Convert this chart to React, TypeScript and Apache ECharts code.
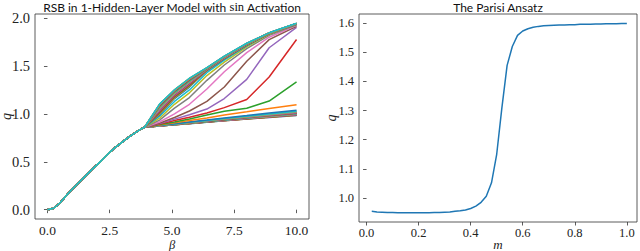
import React, { useEffect, useRef } from "react";
import * as echarts from "echarts";

// ---- Left panel: common (replica-symmetric) part, beta 0..3.9 ----
const betaCommon = [0, 0.25, 0.5, 0.75, 1.0, 1.25, 1.5, 1.75, 2.0, 2.25, 2.5, 2.75, 3.0, 3.25, 3.5, 3.75, 3.9];
const qCommon = [0, 0.015, 0.07, 0.145, 0.215, 0.28, 0.345, 0.41, 0.47, 0.535, 0.6, 0.655, 0.705, 0.755, 0.8, 0.84, 0.86];

// ---- Left panel: branches after beta 3.9 ----
const betaBranch = [4.5, 5.1, 5.7, 6.4, 7.1, 8.0, 8.9, 10];

const lowerBranches = [
  [0.874, 0.886, 0.898, 0.913, 0.928, 0.946, 0.963, 0.984],
  [0.874, 0.887, 0.899, 0.914, 0.929, 0.947, 0.965, 0.986],
  [0.874, 0.887, 0.900, 0.915, 0.930, 0.948, 0.966, 0.988],
  [0.874, 0.887, 0.900, 0.916, 0.931, 0.950, 0.968, 0.990],
  [0.875, 0.888, 0.901, 0.917, 0.932, 0.951, 0.970, 0.992],
  [0.875, 0.888, 0.902, 0.918, 0.933, 0.953, 0.971, 0.994],
  [0.875, 0.889, 0.902, 0.919, 0.934, 0.954, 0.973, 0.996],
  [0.875, 0.889, 0.903, 0.919, 0.935, 0.955, 0.975, 0.998],
  [0.875, 0.889, 0.903, 0.920, 0.936, 0.957, 0.976, 1.000],
  [0.876, 0.890, 0.904, 0.921, 0.937, 0.958, 0.978, 1.002],
  [0.876, 0.890, 0.905, 0.922, 0.939, 0.959, 0.980, 1.004],
  [0.876, 0.891, 0.905, 0.923, 0.940, 0.961, 0.981, 1.006],
  [0.876, 0.891, 0.906, 0.924, 0.941, 0.962, 0.983, 1.008],
  [0.877, 0.892, 0.907, 0.925, 0.942, 0.964, 0.985, 1.010],
  [0.877, 0.892, 0.907, 0.925, 0.943, 0.965, 0.986, 1.012],
  [0.877, 0.892, 0.908, 0.926, 0.944, 0.966, 0.988, 1.014],
  [0.877, 0.893, 0.909, 0.928, 0.946, 0.968, 0.990, 1.017],
  [0.878, 0.894, 0.910, 0.929, 0.947, 0.970, 0.993, 1.020],
  [0.878, 0.894, 0.911, 0.931, 0.949, 0.973, 0.996, 1.024],
  [0.879, 0.895, 0.912, 0.932, 0.952, 0.976, 0.999, 1.028],
];

const upperBranches = [
  [0.880, 0.897, 0.915, 0.936, 0.958, 0.983, 1.009, 1.037],
  [0.884, 0.906, 0.930, 0.958, 0.988, 1.021, 1.055, 1.096],
  [0.888, 0.916, 0.946, 0.988, 1.028, 1.058, 1.134, 1.333],
  [0.893, 0.930, 0.965, 1.010, 1.065, 1.150, 1.385, 1.777],
  [0.898, 0.945, 0.990, 1.050, 1.160, 1.360, 1.690, 1.903],
  [0.903, 0.962, 1.030, 1.130, 1.280, 1.550, 1.775, 1.915],
  [0.915, 1.000, 1.100, 1.260, 1.440, 1.640, 1.800, 1.925],
  [0.935, 1.060, 1.170, 1.350, 1.510, 1.680, 1.820, 1.930],
  [0.955, 1.100, 1.220, 1.400, 1.540, 1.700, 1.830, 1.933],
  [0.975, 1.130, 1.250, 1.430, 1.560, 1.710, 1.835, 1.935],
  [0.990, 1.160, 1.280, 1.450, 1.575, 1.715, 1.837, 1.936],
  [1.001, 1.169, 1.289, 1.453, 1.578, 1.717, 1.838, 1.937],
  [1.012, 1.178, 1.298, 1.456, 1.580, 1.719, 1.839, 1.938],
  [1.022, 1.186, 1.306, 1.459, 1.582, 1.721, 1.839, 1.939],
  [1.032, 1.194, 1.314, 1.461, 1.585, 1.723, 1.840, 1.939],
  [1.041, 1.201, 1.321, 1.464, 1.587, 1.724, 1.841, 1.940],
  [1.048, 1.208, 1.328, 1.466, 1.588, 1.726, 1.841, 1.941],
  [1.056, 1.214, 1.334, 1.468, 1.590, 1.727, 1.842, 1.941],
  [1.064, 1.220, 1.340, 1.470, 1.592, 1.728, 1.842, 1.942],
  [1.069, 1.225, 1.345, 1.472, 1.593, 1.729, 1.843, 1.942],
  [1.076, 1.230, 1.350, 1.473, 1.595, 1.731, 1.843, 1.943],
  [1.080, 1.234, 1.354, 1.475, 1.596, 1.731, 1.844, 1.943],
  [1.085, 1.237, 1.357, 1.476, 1.597, 1.732, 1.844, 1.944],
  [1.089, 1.241, 1.361, 1.477, 1.598, 1.733, 1.844, 1.944],
  [1.092, 1.244, 1.364, 1.478, 1.598, 1.734, 1.844, 1.944],
  [1.096, 1.246, 1.366, 1.479, 1.599, 1.734, 1.845, 1.945],
  [1.097, 1.248, 1.368, 1.479, 1.599, 1.735, 1.845, 1.945],
  [1.099, 1.249, 1.369, 1.480, 1.600, 1.735, 1.845, 1.945],
  [1.100, 1.250, 1.370, 1.480, 1.600, 1.735, 1.845, 1.945],
  [1.102, 1.252, 1.372, 1.482, 1.602, 1.737, 1.846, 1.946],
];

const betaTicks = [0, 2.5, 5, 7.5, 10];
const qTicksLeft = [0, 0.5, 1.0, 1.5, 2.0];

// ---- Right panel: Parisi ansatz ----
const mValues = [
  0.02, 0.04, 0.06, 0.08, 0.10, 0.12, 0.14, 0.16, 0.18, 0.20,
  0.22, 0.24, 0.26, 0.28, 0.30, 0.32, 0.34, 0.36, 0.38, 0.40,
  0.42, 0.44, 0.46, 0.48, 0.50, 0.52, 0.54, 0.56, 0.58, 0.60,
  0.62, 0.64, 0.66, 0.68, 0.70, 0.72, 0.74, 0.76, 0.78, 0.80,
  0.82, 0.84, 0.86, 0.88, 0.90, 0.92, 0.94, 0.96, 0.98, 1.00,
];
const qParisi = [
  0.954, 0.952, 0.951, 0.950, 0.950, 0.949, 0.949, 0.949, 0.949, 0.949,
  0.949, 0.949, 0.950, 0.950, 0.951, 0.952, 0.954, 0.956, 0.959, 0.964,
  0.972, 0.985, 1.006, 1.052, 1.150, 1.310, 1.455, 1.520, 1.558, 1.573,
  1.581, 1.586, 1.589, 1.591, 1.592, 1.593, 1.594, 1.594, 1.595, 1.595,
  1.596, 1.596, 1.596, 1.597, 1.597, 1.598, 1.598, 1.598, 1.599, 1.599,
];
const mTicks = [0, 0.2, 0.4, 0.6, 0.8, 1.0];
const qTicksRight = [1.0, 1.1, 1.2, 1.3, 1.4, 1.5, 1.6];

const tab10 = ["#1f77b4", "#ff7f0e", "#2ca02c", "#d62728", "#9467bd", "#8c564b", "#e377c2", "#7f7f7f", "#bcbd22", "#17becf"];

const SERIF = "'Liberation Serif', 'DejaVu Serif', serif";
const SANS = "Lato, 'Liberation Sans', sans-serif";
const AX = "#333";

function valueAxis(gridIndex: number, min: number, max: number, ticks: number[], fontSize: number, margin: number, name: string, nameGap: number, nameSize: number) {
  return {
    type: "value",
    gridIndex,
    min,
    max,
    splitLine: { show: false },
    axisLine: { show: false },
    axisTick: { show: true, customValues: ticks, length: 3.5, lineStyle: { color: AX, width: 0.8 } },
    axisLabel: {
      customValues: ticks,
      formatter: (v: any) => Number(v).toFixed(1),
      fontFamily: SERIF,
      fontSize,
      color: "#222",
      margin,
    },
    name,
    nameLocation: "middle",
    nameGap,
    nameMoveOverlap: false,
    nameTextStyle: { fontFamily: SERIF, fontStyle: "italic", fontSize: nameSize, color: "#222" },
  };
}

export default function App() {
  const ref = useRef<HTMLDivElement>(null);
  useEffect(() => {
    if (!ref.current) return;
    const chart = echarts.init(ref.current, undefined, { renderer: "svg" });

    const branches = lowerBranches.concat(upperBranches);
    const leftSeries = branches.map((row) => ({
      type: "line",
      xAxisIndex: 0,
      yAxisIndex: 0,
      showSymbol: false,
      silent: true,
      lineStyle: { width: 1.5 },
      data: betaCommon.map((b, i) => [b, qCommon[i]]).concat(betaBranch.map((b, i) => [b, row[i]])),
    }));

    const rightSeries = {
      type: "line",
      xAxisIndex: 1,
      yAxisIndex: 1,
      showSymbol: false,
      silent: true,
      color: "#1f77b4",
      lineStyle: { width: 1.5, color: "#1f77b4" },
      data: mValues.map((m, i) => [m, qParisi[i]]),
    };

    chart.setOption({
      animation: false,
      color: tab10,
      grid: [
        { left: 35, top: 14, width: 274, height: 205, show: true, borderColor: AX, borderWidth: 0.8, backgroundColor: "transparent", outerBoundsMode: "none", containLabel: false },
        { left: 359, top: 14, width: 278, height: 208, show: true, borderColor: AX, borderWidth: 0.8, backgroundColor: "transparent", outerBoundsMode: "none", containLabel: false },
      ],
      xAxis: [
        valueAxis(0, -0.5, 10.5, betaTicks, 13.5, 4, "β", 19.5, 12.5),
        valueAxis(1, -0.029, 1.039, mTicks, 12.5, 4, "m", 16, 13),
      ],
      yAxis: [
        valueAxis(0, -0.0975, 2.0425, qTicksLeft, 14.5, 5, "q", 22, 14),
        valueAxis(1, 0.9175, 1.6315, qTicksRight, 12.5, 5, "q", 21, 14),
      ],
      graphic: [
        {
          type: "text",
          x: 172,
          y: 7,
          style: {
            text: "RSB in 1-Hidden-Layer Model with {s|sin} Activation",
            font: `12px ${SANS}`,
            fill: "#111",
            align: "center",
            verticalAlign: "middle",
            rich: { s: { fontFamily: SERIF, fontSize: 12.5, fill: "#111" } },
          },
        },
        {
          type: "text",
          x: 498,
          y: 7,
          style: {
            text: "The Parisi Ansatz",
            font: `12px ${SANS}`,
            fill: "#111",
            align: "center",
            verticalAlign: "middle",
          },
        },
      ],
      series: [...leftSeries, rightSeries],
    });
    return () => chart.dispose();
  }, []);
  return <div ref={ref} style={{ position: "fixed", left: 0, top: 0, width: 640, height: 251, background: "#fff" }} />;
}
